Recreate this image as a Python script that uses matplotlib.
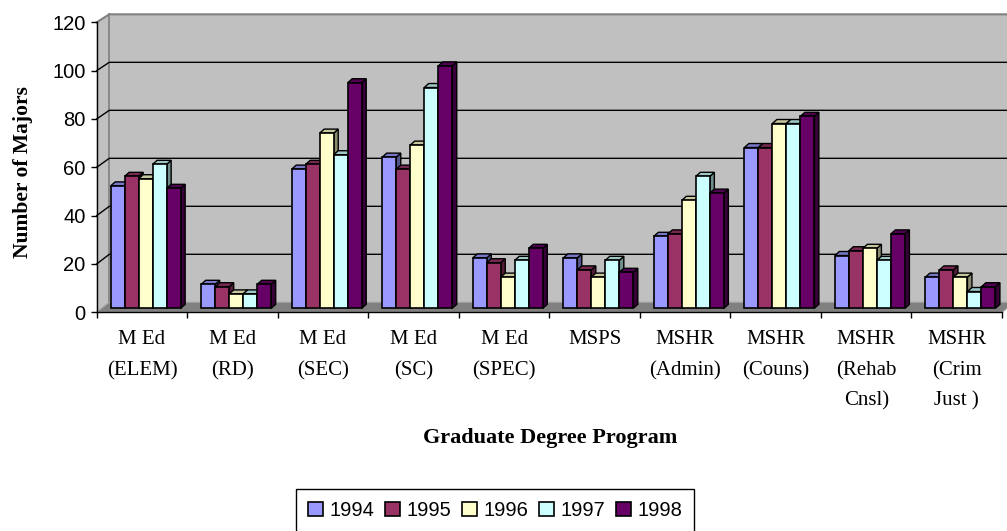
import numpy as np
import matplotlib.pyplot as plt
from matplotlib.patches import Polygon, Rectangle, Patch
from matplotlib.colors import to_rgb

# === Data ===
programs = ['M Ed\n(ELEM)', 'M Ed\n(RD)', 'M Ed\n(SEC)', 'M Ed\n(SC)', 'M Ed\n(SPEC)',
            'MSPS', 'MSHR\n(Admin)', 'MSHR\n(Couns)', 'MSHR\n(Rehab\nCnsl)', 'MSHR\n(Crim\nJust )']
years = ['1994', '1995', '1996', '1997', '1998']
majors_1994 = [51, 10, 58, 63, 21, 21, 30, 67, 22, 13]
majors_1995 = [55, 9, 60, 58, 19, 16, 31, 67, 24, 16]
majors_1996 = [54, 6, 73, 68, 13, 13, 45, 77, 25, 13]
majors_1997 = [60, 6, 64, 92, 20, 20, 55, 77, 20, 7]
majors_1998 = [50, 10, 94, 101, 25, 15, 48, 80, 31, 9]
series = [majors_1994, majors_1995, majors_1996, majors_1997, majors_1998]
colors = ['#9999FF', '#993366', '#FFFFCC', '#CCFFFF', '#660066']
y_ticks = [0, 20, 40, 60, 80, 100, 120]

SERIF = 'Liberation Serif'
SANS = 'Liberation Sans'

# === Layout (pixels of the 1007x531 picture) ===
W, H = 1007, 531
ax_left, ax_right, ax_top, ax_bottom = 96.7, 1002, 22.3, 312.3
n = len(programs)

fig = plt.figure(figsize=(W / 100, H / 100), dpi=100)
ax = fig.add_axes([ax_left / W, 1 - ax_bottom / H,
                   (ax_right - ax_left) / W, (ax_bottom - ax_top) / H])
ax.set_xlim(-0.5, n - 0.5)
ax.set_ylim(0, 120)
ax.patch.set_visible(False)

# data units per pixel
px_x = n / (ax_right - ax_left)
px_y = 120 / (ax_bottom - ax_top)

# pseudo 3D geometry
k = 0.993                      # depth scale for back planes
wall_dx, wall_dy = 12.6 * px_x, 10 * px_y
bar_lift = 4 * px_y
bar_shift = 3.7 * px_x
bar_w = 14 * px_x
depth_dx, depth_dy = 4.5 * px_x, 4 * px_y

x0, x1 = -0.5, n - 0.5
top = 120 * k + wall_dy

# === Walls and floor ===
ax.add_patch(Polygon([(x0, 0), (x0, 120), (x0 + wall_dx, top), (x0 + wall_dx, wall_dy)],
                     fc='#C0C0C0', ec='none', zorder=0, clip_on=False))
ax.add_patch(Rectangle((x0 + wall_dx, wall_dy), x1 - x0, 120 * k,
                       fc='#C0C0C0', ec='none', zorder=0, clip_on=False))
ax.plot([x0, x0 + wall_dx, x1 + wall_dx], [120, top, top], color='#808080', lw=1.5,
        zorder=1, clip_on=False)
ax.plot([x0 + wall_dx, x0 + wall_dx], [wall_dy, top], color='#808080', lw=1.2,
        zorder=1, clip_on=False)
for v in y_ticks[1:-1]:
    ax.plot([x0, x0 + wall_dx, x1 + wall_dx], [v, v * k + wall_dy, v * k + wall_dy],
            color='black', lw=1, zorder=1, clip_on=False)
ax.add_patch(Polygon([(x0, 0), (x1, 0), (x1 + wall_dx, wall_dy), (x0 + wall_dx, wall_dy)],
                     fc='#808080', ec='#A0A0A0', lw=0.8, zorder=1.5, clip_on=False))

# === Bars ===
for j, (vals, c) in enumerate(zip(series, colors)):
    xs = np.arange(n) + bar_shift + (j - 2) * bar_w
    bars = ax.bar(xs, np.array(vals) * k, width=bar_w, bottom=bar_lift, color=c,
                  edgecolor='black', lw=1.2)
    rgb = np.array(to_rgb(c))
    for i, b in enumerate(bars):
        z = 3 + (i * 5 + j) * 0.01
        b.set_zorder(z + 0.005)
        bx0, bx1 = b.get_x(), b.get_x() + b.get_width()
        by0, by1 = b.get_y(), b.get_y() + b.get_height()
        side = Polygon([(bx1, by0), (bx1, by1), (bx1 + depth_dx, by1 + depth_dy),
                        (bx1 + depth_dx, by0 + depth_dy)],
                       fc=rgb * 0.55, ec='black', lw=1.0, zorder=z)
        cap = Polygon([(bx0, by1), (bx1, by1), (bx1 + depth_dx, by1 + depth_dy),
                       (bx0 + depth_dx, by1 + depth_dy)],
                      fc=rgb * 0.78, ec='black', lw=1.0, zorder=z)
        ax.add_patch(side)
        ax.add_patch(cap)

# === Axes ===
for s in ['top', 'right']:
    ax.spines[s].set_visible(False)
for s in ['left', 'bottom']:
    ax.spines[s].set_color('black')
    ax.spines[s].set_linewidth(1)
    ax.spines[s].set_zorder(2)

ax.set_yticks(y_ticks)
ax.tick_params(axis='y', direction='out', length=4.3, width=1, pad=3.6, labelsize=14.5)
for t in ax.get_yticklabels():
    t.set_fontfamily(SANS)

ax.set_xticks(range(n))
ax.set_xticklabels(programs, fontsize=15, fontfamily=SERIF, linespacing=1.8)
ax.set_xticks(np.arange(-0.5, n), minor=True)
ax.tick_params(axis='x', which='major', length=0, pad=13)
ax.tick_params(axis='x', which='minor', direction='out', length=4.3, width=1)

fig.text(550 / W, 1 - 438 / H, 'Graduate Degree Program', ha='center', va='center',
         fontsize=16, fontweight='bold', family=SERIF)
fig.text(23.5 / W, 1 - 172.5 / H, 'Number of Majors', rotation=90, ha='center',
         va='center', fontsize=15.5, fontweight='bold', family=SERIF)

# === Legend ===
handles = [Patch(facecolor=c, edgecolor='black', lw=1.2) for c in colors]
leg = fig.legend(handles, years, loc='center', bbox_to_anchor=(495 / W, 1 - 510.5 / H),
                 ncol=5, frameon=True, fancybox=False, edgecolor='black',
                 prop={'family': SANS, 'size': 14.5}, handlelength=0.75, handleheight=0.75,
                 handletextpad=0.3, columnspacing=0.55, borderpad=0.6)
leg.get_frame().set_linewidth(1)
leg.get_frame().set_alpha(1)

fig.savefig('out.png', dpi=100)
